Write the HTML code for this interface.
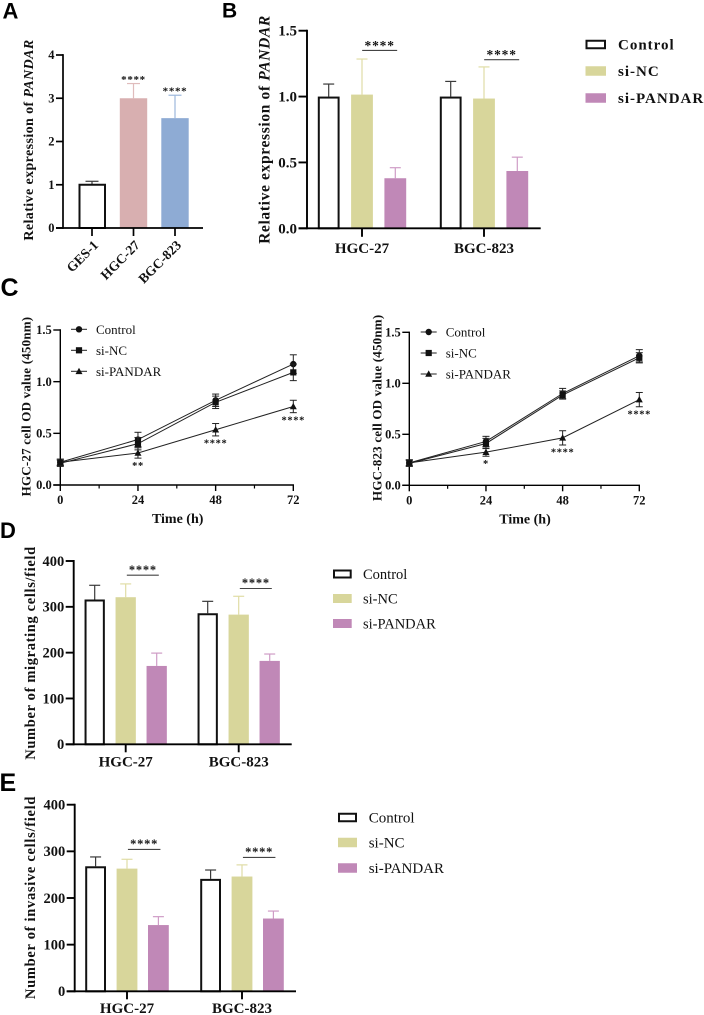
<!DOCTYPE html>
<html lang="en">
<head>
<meta charset="utf-8">
<title>PANDAR expression, proliferation, migration and invasion figure</title>
<style>
html,body{margin:0;padding:0;background:#fff;}
body{width:704px;height:1015px;overflow:hidden;}
svg{display:block;filter:blur(0.35px);}
text{font-family:"Liberation Serif",serif;fill:#111;}
.letter{font-family:"Liberation Sans",sans-serif;font-weight:700;fill:#000;}
</style>
</head>
<body>
<svg id="figure" xmlns="http://www.w3.org/2000/svg" width="704" height="1015" viewBox="0 0 704 1015">
  <text class="letter" x="2.5" y="18.5" font-size="22">A</text>
  <text class="letter" x="222" y="17.5" font-size="21">B</text>
  <text class="letter" x="0.5" y="296" font-size="25">C</text>
  <text class="letter" x="0" y="538" font-size="22">D</text>
  <text class="letter" x="-0.5" y="791" font-size="25">E</text>
</svg>
<script>
/* ---------- Panel A ---------- */
var aCategories = ['GES-1', 'HGC-27', 'BGC-823'];
var aValues = [1.0, 3.0, 2.54];
var aErrors = [0.08, 0.34, 0.53];
var aTicks = [0, 1, 2, 3, 4];
var aStars = ['', '****', '****'];

/* ---------- Panels B, D, E shared ---------- */
var groups = ['HGC-27', 'BGC-823'];
var seriesNames = ['Control', 'si-NC', 'si-PANDAR'];

/* ---------- Panel B ---------- */
var bControl = [1.0, 1.0];
var bControlErr = [0.095, 0.115];
var bSiNC = [1.015, 0.985];
var bSiNCErr = [0.27, 0.24];
var bSiPandar = [0.38, 0.435];
var bSiPandarErr = [0.08, 0.105];
var bTicks = ['0.0', '0.5', '1.0', '1.5'];
var bBracketLevels = [1.35, 1.28];

/* ---------- Panel C ---------- */
var hours = [0, 24, 48, 72];
var hourMinorTicks = [12, 36, 60];
var odTicks = ['0.0', '0.5', '1.0', '1.5'];
var c1Control = [0.22, 0.44, 0.82, 1.17];
var c1ControlErr = [0.03, 0.07, 0.06, 0.09];
var c1SiNC = [0.21, 0.40, 0.80, 1.09];
var c1SiNCErr = [0.03, 0.06, 0.06, 0.08];
var c1SiPandar = [0.22, 0.31, 0.535, 0.76];
var c1SiPandarErr = [0.03, 0.05, 0.06, 0.06];
var c1Stars = ['', '**', '****', '****'];
var c2Control = [0.22, 0.43, 0.90, 1.27];
var c2ControlErr = [0.03, 0.05, 0.05, 0.06];
var c2SiNC = [0.215, 0.41, 0.885, 1.25];
var c2SiNCErr = [0.03, 0.05, 0.04, 0.05];
var c2SiPandar = [0.22, 0.325, 0.465, 0.84];
var c2SiPandarErr = [0.03, 0.04, 0.07, 0.07];
var c2Stars = ['', '*', '****', '****'];

/* ---------- Panel D ---------- */
var dControl = [316, 286];
var dControlErr = [31, 26];
var dSiNC = [321, 283];
var dSiNCErr = [29, 40];
var dSiPandar = [171, 182];
var dSiPandarErr = [28, 15];
var countTicks = [0, 100, 200, 300, 400];
var dBracketLevels = [369, 340];

/* ---------- Panel E ---------- */
var eControl = [268, 241];
var eControlErr = [20, 19];
var eSiNC = [263, 246];
var eSiNCErr = [20, 25];
var eSiPandar = [142, 156];
var eSiPandarErr = [18, 16];
var eBracketLevels = [304, 287];

var BAR_COLORS = ['#ffffff', '#d8d69b', '#c088b7'];
var ERR_COLORS = ['#3a3a3a', '#e0dda6', '#cf9cc6'];
var svg = document.getElementById('figure');
var NS = 'http://www.w3.org/2000/svg';

function mk(tag, attrs, name, parent, txt) {
  var e = document.createElementNS(NS, tag);
  for (var k in attrs) e.setAttribute(k, attrs[k]);
  
  
  if (txt !== undefined) e.textContent = txt;
  (parent || svg).appendChild(e);
  return e;
}
function line(x1, y1, x2, y2, color, w, name, parent) {
  return mk('line', {x1: x1, y1: y1, x2: x2, y2: y2, stroke: color, 'stroke-width': w}, name, parent);
}
function linear(d0, d1, r0, r1) {
  return function (v) { return r0 + (v - d0) * (r1 - r0) / (d1 - d0); };
}
function txt(x, y, s, size, weight, anchor, name, parent, extra) {
  var a = {x: x, y: y, 'font-size': size, 'font-weight': weight, 'text-anchor': anchor};
  for (var k in (extra || {})) a[k] = extra[k];
  return mk('text', a, name, parent, s);
}
function stars(cx, cy, s, size, name, parent) {
  return txt(cx, cy + size * 0.54, s, size, 700, 'middle', name, parent, {'letter-spacing': size * 0.06, fill: '#333'});
}
function yTitle(cx, cy, s, size, spacing, italicPart, name, parent) {
  var t = mk('text', {
    transform: 'translate(' + cx + ' ' + cy + ') rotate(-90)',
    'text-anchor': 'middle', 'font-size': size, 'font-weight': 700, 'letter-spacing': spacing, y: size * 0.34
  }, name, parent, s);
  if (italicPart) {
    var sp = mk('tspan', {'font-style': 'italic'}, name + '-gene', t, italicPart);
  }
  return t;
}
function yAxis(g, x, yScale, ticks, tickLen, size, w, top) {
  line(x, yScale(0) + w / 2, x, top - w / 2, '#000', w, 'y-axis-line', g);
  ticks.forEach(function (t) {
    var y = yScale(parseFloat(t));
    line(x - tickLen, y, x, y, '#000', w, 'y-tick', g);
    txt(x - tickLen - 1.5, y + size * 0.33, t, size, 700, 'end', 'y-tick-label', g);
  });
}
function errBar(g, x, yTop, yBase, cap, color, w, name) {
  line(x, yBase, x, yTop, color, w, name, g);
  line(x - cap / 2, yTop, x + cap / 2, yTop, color, w, name + '-cap', g);
}
function bar(g, cx, width, y, y0, si, name) {
  if (si === 0) {
    mk('rect', {x: cx - width / 2 + 1, y: y + 1, width: width - 2, height: y0 - y - 1, fill: '#fff', stroke: '#111', 'stroke-width': 2}, name, g);
  } else {
    mk('rect', {x: cx - width / 2, y: y, width: width, height: y0 - y, fill: BAR_COLORS[si]}, name, g);
  }
}
function barLegend(x, textX, ys, size, weight, spacing, w, h, panel) {
  var g = mk('g', {}, panel + '-legend');
  seriesNames.forEach(function (s, i) {
    var e = mk('g', {}, panel + '-legend-entry-' + s.toLowerCase(), g);
    if (i === 0) {
      mk('rect', {x: x + 1, y: ys[i] - h / 2 + 1, width: w - 2, height: h - 2, fill: '#fff', stroke: '#111', 'stroke-width': 2}, 'legend-swatch', e);
    } else {
      mk('rect', {x: x, y: ys[i] - h / 2, width: w, height: h, fill: BAR_COLORS[i]}, 'legend-swatch', e);
    }
    txt(textX, ys[i] + size * 0.34, s, size, weight, 'start', 'legend-label', e, {'letter-spacing': spacing});
  });
}
function groupedBars(c) {
  var g = mk('g', {}, c.panel);
  var yS = linear(0, c.max, c.y0, c.yTop);
  var gx = function (i) { return c.groupX + i * c.groupStep; };
  var series = [c.values[0], c.values[1], c.values[2]];
  var errs = [c.errors[0], c.errors[1], c.errors[2]];
  series.forEach(function (vals, si) {
    vals.forEach(function (v, gi) {
      var cx = gx(gi) + (si - 1) * c.barStep;
      errBar(g, cx, yS(v + errs[si][gi]), yS(v), c.cap, ERR_COLORS[si], 1.2, 'error-bar-' + seriesNames[si].toLowerCase());
      bar(g, cx, c.barW, yS(v), c.y0, si, 'bar-' + seriesNames[si].toLowerCase() + '-' + groups[gi].toLowerCase());
    });
  });
  yAxis(g, c.x0, yS, c.ticks, c.tickLen, c.tickSize, 1.9, c.yTop);
  line(c.x0 - c.tickLen, c.y0, c.xEnd, c.y0, '#000', 1.9, 'x-axis-line', g);
  groups.forEach(function (n, i) {
    line(gx(i), c.y0, gx(i), c.y0 + c.tickLen, '#000', 1.9, 'x-tick', g);
    txt(gx(i), c.labelY, n, c.labelSize, 700, 'middle', 'x-tick-label', g);
    var ly = yS(c.brackets[i]);
    var bx0 = gx(i) + c.barStep * 0.02 + c.bracketShift;
    line(bx0, ly, bx0 + c.bracketW, ly, '#444', 1.1, 'significance-bracket', g);
    stars(bx0 + c.bracketW / 2, ly - 8, '****', c.starSize, 'significance-stars', g);
  });
  yTitle(c.titleX, c.titleY, c.title, c.titleSize, c.titleSpacing, c.italic, 'y-axis-title', g);
}
function marker(g, kind, x, y, name) {
  if (kind === 0) mk('circle', {cx: x, cy: y, r: 3.2, fill: '#111'}, name, g);
  if (kind === 1) mk('rect', {x: x - 3.1, y: y - 3.1, width: 6.2, height: 6.2, fill: '#111'}, name, g);
  if (kind === 2) mk('path', {d: 'M' + x + ' ' + (y - 3.6) + 'L' + (x + 3.5) + ' ' + (y + 2.8) + 'L' + (x - 3.5) + ' ' + (y + 2.8) + 'Z', fill: '#111'}, name, g);
}
function lineChart(c) {
  var g = mk('g', {}, c.panel);
  var xS = linear(0, 72, c.x0, c.x72);
  var yS = linear(0, 1.5, c.y0, c.yTop);
  var data = [c.control, c.siNC, c.siPandar];
  var errs = [c.controlErr, c.siNCErr, c.siPandarErr];
  yAxis(g, c.x0, yS, odTicks, 7, 12.5, 1.4, c.yTop);
  line(c.x0 - 7, c.y0, c.x72 + 0.7, c.y0, '#000', 1.4, 'x-axis-line', g);
  hours.forEach(function (h) {
    line(xS(h), c.y0, xS(h), c.y0 + 6, '#000', 1.4, 'x-tick', g);
    txt(xS(h), c.y0 + 19, String(h), 12.5, 700, 'middle', 'x-tick-label', g);
  });
  hourMinorTicks.forEach(function (h) {
    line(xS(h), c.y0, xS(h), c.y0 + 3.5, '#000', 1.2, 'x-minor-tick', g);
  });
  data.forEach(function (vals, si) {
    var name = seriesNames[si].toLowerCase();
    var pts = vals.map(function (v, i) { return xS(hours[i]) + ',' + yS(v); }).join(' ');
    mk('polyline', {points: pts, fill: 'none', stroke: '#222', 'stroke-width': 1}, 'line-' + name, g);
    vals.forEach(function (v, i) {
      var x = xS(hours[i]);
      line(x, yS(v + errs[si][i]), x, yS(v - errs[si][i]), '#222', 1, 'error-bar-' + name, g);
      line(x - 3.5, yS(v + errs[si][i]), x + 3.5, yS(v + errs[si][i]), '#222', 1, 'error-cap-' + name, g);
      line(x - 3.5, yS(v - errs[si][i]), x + 3.5, yS(v - errs[si][i]), '#222', 1, 'error-cap-' + name, g);
      marker(g, si, x, yS(v), 'marker-' + name);
    });
  });
  c.stars.forEach(function (s, i) {
    if (!s) return;
    var below = yS(c.siPandar[i] - c.siPandarErr[i]);
    stars(xS(hours[i]), below + 5, s, 10.5, 'significance-stars', g);
  });
  var leg = mk('g', {}, c.panel + '-legend', g);
  seriesNames.forEach(function (s, i) {
    var e = mk('g', {}, 'legend-entry-' + s.toLowerCase(), leg);
    var ly = c.legendY + i * c.legendStep;
    line(c.legendX, ly, c.legendX + 16, ly, '#222', 1, 'legend-line', e);
    marker(e, i, c.legendX + 8, ly, 'legend-marker');
    txt(c.legendX + 25, ly + 4.5, s, 13, 400, 'start', 'legend-label', e, {fill: '#333'});
  });
  yTitle(c.titleX, (c.y0 + c.yTop) / 2 - 1, c.title, 13, 0.2, '', 'y-axis-title', g);
  txt(c.timeX, c.y0 + 38, 'Time (h)', 14, 700, 'middle', 'x-axis-title', g);
}

/* Panel A */
(function () {
  var g = mk('g', {}, 'panel-a-bar-chart');
  var yS = linear(0, 4, 228, 55);
  var xS = function (i) { return 92 + i * 41.5; };
  var colors = ['#fff', '#d8afb0', '#8eabd4'];
  var errC = ['#3a3a3a', '#e0bcbc', '#9db8dc'];
  aValues.forEach(function (v, i) {
    errBar(g, xS(i), yS(v + aErrors[i]), yS(v), 13, errC[i], 1.2, 'error-bar-' + aCategories[i].toLowerCase());
    if (i === 0) {
      mk('rect', {x: xS(i) - 12.5, y: yS(v), width: 25.5, height: 228 - yS(v), fill: '#fff', stroke: '#111', 'stroke-width': 2}, 'bar-ges-1', g);
    } else {
      mk('rect', {x: xS(i) - 13.7, y: yS(v), width: 27.4, height: 228 - yS(v), fill: colors[i]}, 'bar-' + aCategories[i].toLowerCase(), g);
      stars(xS(i), yS(v + aErrors[i]) - 6.5, aStars[i], 11, 'significance-stars', g);
    }
  });
  yAxis(g, 63, yS, aTicks.map(String), 7, 12.5, 1.7, 55);
  line(56, 228, 203, 228, '#000', 1.7, 'x-axis-line', g);
  aCategories.forEach(function (n, i) {
    line(xS(i), 228, xS(i), 236, '#000', 1.7, 'x-tick', g);
    var ax = xS(i) + 7;
    txt(0, 0, n, 13.5, 700, 'end', 'x-tick-label', g, {transform: 'translate(' + ax + ' 246) rotate(-45)'});
  });
  yTitle(28, 140, 'Relative expression of ', 14, 0.4, 'PANDAR', 'y-axis-title', g);
})();

/* Panel B */
groupedBars({
  panel: 'panel-b-bar-chart', max: 1.5, y0: 228.3, yTop: 30.7, x0: 307, xEnd: 540.7,
  groupX: 362, groupStep: 122, barStep: 33.3, barW: 21.8, cap: 11,
  values: [bControl, bSiNC, bSiPandar], errors: [bControlErr, bSiNCErr, bSiPandarErr],
  ticks: bTicks, tickLen: 8.5, tickSize: 15, labelY: 253, labelSize: 15,
  brackets: bBracketLevels, bracketW: 35, bracketShift: -0.5, starSize: 13.5,
  titleX: 264, titleY: 129.5, title: 'Relative expression of ', titleSize: 15.5, titleSpacing: 0.65, italic: 'PANDAR'
});
barLegend(585.5, 618, [44.5, 71, 98], 15, 700, 1, 20.5, 9.5, 'panel-b');

/* Panel C */
lineChart({
  panel: 'panel-c-hgc27-line-chart', x0: 60.3, x72: 293.3, y0: 485, yTop: 330,
  control: c1Control, controlErr: c1ControlErr, siNC: c1SiNC, siNCErr: c1SiNCErr,
  siPandar: c1SiPandar, siPandarErr: c1SiPandarErr, stars: c1Stars,
  legendX: 71, legendY: 329.3, legendStep: 21, titleX: 26,
  title: 'HGC-27 cell OD value (450nm)', timeX: 177.7
});
lineChart({
  panel: 'panel-c-bgc823-line-chart', x0: 409.3, x72: 639.3, y0: 485.3, yTop: 332.3,
  control: c2Control, controlErr: c2ControlErr, siNC: c2SiNC, siNCErr: c2SiNCErr,
  siPandar: c2SiPandar, siPandarErr: c2SiPandarErr, stars: c2Stars,
  legendX: 420.7, legendY: 332, legendStep: 21, titleX: 377,
  title: 'HGC-823 cell OD value (450nm)', timeX: 525
});

/* Panel D */
groupedBars({
  panel: 'panel-d-bar-chart', max: 400, y0: 744.3, yTop: 561, x0: 73.7, xEnd: 291.7,
  groupX: 125.7, groupStep: 113, barStep: 31, barW: 20.3, cap: 11,
  values: [dControl, dSiNC, dSiPandar], errors: [dControlErr, dSiNCErr, dSiPandarErr],
  ticks: countTicks.map(String), tickLen: 8, tickSize: 14.5, labelY: 766.5, labelSize: 15,
  brackets: dBracketLevels, bracketW: 32, bracketShift: 0.5, starSize: 12.5,
  titleX: 30, titleY: 653, title: 'Number of migrating cells/field', titleSize: 14.5, titleSpacing: 0.65, italic: ''
});
barLegend(333, 363, [574, 598.5, 623.5], 14.5, 400, 0, 18.7, 9, 'panel-d');

/* Panel E */
groupedBars({
  panel: 'panel-e-bar-chart', max: 400, y0: 991.3, yTop: 804.7, x0: 74.7, xEnd: 296,
  groupX: 127, groupStep: 115, barStep: 31.4, barW: 20.8, cap: 11,
  values: [eControl, eSiNC, eSiPandar], errors: [eControlErr, eSiNCErr, eSiPandarErr],
  ticks: countTicks.map(String), tickLen: 8, tickSize: 14.5, labelY: 1013, labelSize: 15,
  brackets: eBracketLevels, bracketW: 32.5, bracketShift: 0.3, starSize: 12.5,
  titleX: 30, titleY: 897.5, title: 'Number of invasive cells/field', titleSize: 14.5, titleSpacing: 0.7, italic: ''
});
barLegend(338, 368.7, [817.5, 842.5, 868], 15, 400, 0, 19, 9.5, 'panel-e');
</script>
</body>
</html>
